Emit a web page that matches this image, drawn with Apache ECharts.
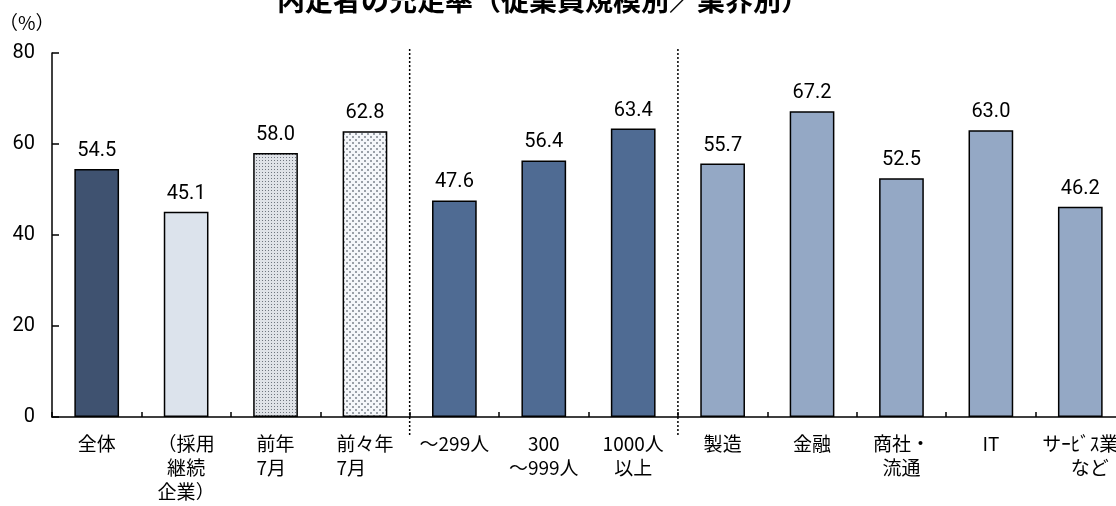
<!DOCTYPE html>
<html>
<head>
<meta charset="utf-8">
<script src="https://cdn.jsdelivr.net/npm/echarts@6/dist/echarts.min.js"></script>
<style>
  html, body { margin: 0; padding: 0; background: #fff; }
  #chart { width: 1116px; height: 506px; }
</style>
</head>
<body>
<div id="chart"></div>
<script>
// Categories along the x axis (line breaks as printed under each bar)
const categories = ['全体', '（採用\n継続\n企業）', '前年\n7月  ', '前々年\n7月　  ', '～299人', '300\n～999人', '1000人\n以上', '製造', '金融', '商社・\n流通', 'IT', 'サｰﾋﾞｽ業\n　など'];
// Fill rate (%) for each category
const values = [54.5, 45.1, 58.0, 62.8, 47.6, 56.4, 63.4, 55.7, 67.2, 52.5, 63.0, 46.2];
// Which style group each bar belongs to
const groups = ['total', 'continuing', 'prevYear', 'twoYearsAgo', 'size', 'size', 'size', 'industry', 'industry', 'industry', 'industry', 'industry'];
// Value axis ticks
const yMin = 0, yMax = 80, yStep = 20;
// Separators are drawn after these category indices
const separatorsAfter = [3, 6];

function dotPattern(size, bg, dots) {
  const c = document.createElement('canvas');
  c.width = size; c.height = size;
  const g = c.getContext('2d');
  g.fillStyle = bg; g.fillRect(0, 0, size, size);
  dots.forEach(d => { g.fillStyle = d[2]; g.fillRect(d[0], d[1], d[3] || 1, d[3] || 1); });
  return c;
}

const fills = {
  total: '#3f5270',
  continuing: '#dce3ec',
  prevYear: { image: dotPattern(3, '#dfe2e7', [[1, 1, '#6f757e']]), repeat: 'repeat' },
  twoYearsAgo: { image: dotPattern(6, '#f5f7fa', [[1, 1, '#9aa0a8', 2], [4, 4, '#9aa0a8', 2]]), repeat: 'repeat' },
  size: '#4f6b93',
  industry: '#94a8c5'
};

const chart = echarts.init(document.getElementById('chart'), null, { renderer: 'canvas' });

const option = {
  animation: false,
  backgroundColor: '#fff',
  title: [
    {
      text: '内定者の充足率（従業員規模別／業界別）',
      left: 272, top: -19,
      textStyle: { fontFamily: 'Noto Sans CJK JP', fontWeight: 'bold', fontSize: 28, color: '#000' }
    },
    {
      text: '（%）',
      left: -6, top: 8,
      textStyle: { fontFamily: 'Noto Sans CJK JP', fontWeight: 'normal', fontSize: 19, color: '#000' }
    }
  ],
  grid: { left: 52, top: 53, width: 1073, height: 364, containLabel: false, outerBoundsMode: 'none' },
  xAxis: {
    type: 'category',
    data: categories,
    boundaryGap: true,
    axisLine: { show: true, lineStyle: { color: '#000', width: 1.5 } },
    axisTick: { show: true, inside: true, length: 5, lineStyle: { color: '#000', width: 1.5 } },
    axisLabel: {
      interval: 0, margin: 15, color: '#000',
      fontFamily: 'Noto Sans CJK JP', fontSize: 19, lineHeight: 24
    },
    splitLine: { show: false }
  },
  yAxis: {
    type: 'value',
    min: yMin, max: yMax, interval: yStep,
    axisLine: { show: true, lineStyle: { color: '#000', width: 1.5 } },
    axisTick: { show: true, inside: true, length: 7, lineStyle: { color: '#000', width: 1.5 } },
    axisLabel: { margin: 17, color: '#000', fontFamily: 'Roboto', fontSize: 20 },
    splitLine: { show: false }
  },
  series: [{
    type: 'bar',
    barWidth: '50%',
    data: values.map((v, i) => ({
      value: v,
      itemStyle: { color: fills[groups[i]] }
    })),
    itemStyle: { borderColor: '#000', borderWidth: 1.5 },
    label: {
      show: true, position: 'top', distance: 8,
      color: '#000', fontFamily: 'Roboto', fontSize: 20,
      formatter: p => p.value.toFixed(1)
    }
  }]
};

chart.setOption(option);

// Dotted separators between category groups
const yBottom = chart.convertToPixel({ yAxisIndex: 0 }, yMin) + 20;
const yTop = chart.convertToPixel({ yAxisIndex: 0 }, yMax) - 4;
chart.setOption({
  graphic: separatorsAfter.map(i => {
    const x = (chart.convertToPixel({ xAxisIndex: 0 }, i) + chart.convertToPixel({ xAxisIndex: 0 }, i + 1)) / 2;
    return {
      type: 'line',
      shape: { x1: x, y1: yTop, x2: x, y2: yBottom },
      style: { stroke: '#000', lineWidth: 1.5, lineDash: [2, 2] },
      z: 10
    };
  })
});
</script>
</body>
</html>
